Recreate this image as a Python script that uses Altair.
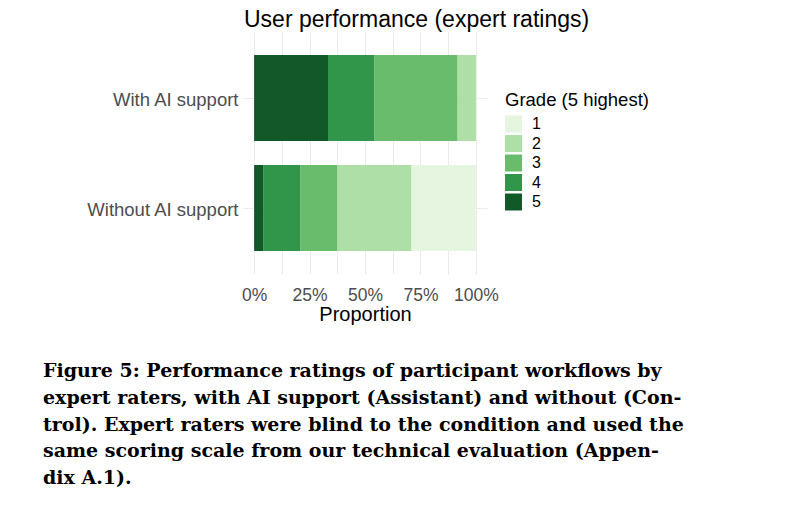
import altair as alt
import pandas as pd

conditions = ["With AI support", "Without AI support"]
grades = [1, 2, 3, 4, 5]
counts_with_ai = [0, 2, 9, 5, 8]
counts_without_ai = [7, 8, 4, 4, 1]
grade_colors = ["#e5f5e0", "#aedfa6", "#68bc6c", "#31954a", "#12592a"]
x_tick_values = [0, 0.125, 0.25, 0.375, 0.5, 0.625, 0.75, 0.875, 1.0]
caption_lines = [
    "Figure 5: Performance ratings of participant workflows by",
    "expert raters, with AI support (Assistant) and without (Con-",
    "trol). Expert raters were blind to the condition and used the",
    "same scoring scale from our technical evaluation (Appen-",
    "dix A.1).",
]

rows = []
for cond, counts in zip(conditions, [counts_with_ai, counts_without_ai]):
    total = sum(counts)
    for g, c in zip(grades, counts):
        rows.append({"condition": cond, "grade": g, "proportion": c / total})
df = pd.DataFrame(rows)

cap_df = pd.DataFrame({"line": caption_lines, "idx": list(range(len(caption_lines)))})

FONT = "Liberation Sans"

bars = alt.Chart(df).mark_bar().encode(
    y=alt.Y(
        "condition:N",
        sort=conditions,
        scale=alt.Scale(paddingInner=0.218, paddingOuter=0.209),
        axis=alt.Axis(
            title=None, ticks=False, domain=False, labelFontSize=18.5,
            labelColor="#4d4d4d", labelFont=FONT, labelPadding=5, labelOffset=2,
            gridColor="#ebebeb", gridWidth=1, bandPosition=0.5, grid=True,
        ),
    ),
    x=alt.X(
        "proportion:Q",
        stack="zero",
        scale=alt.Scale(domain=[-0.05, 1.05], nice=False, zero=False),
        axis=alt.Axis(
            title="Proportion", values=x_tick_values,
            labelExpr="abs(datum.value*4 - round(datum.value*4)) < 0.001 ? format(datum.value, '.0%') : ''",
            ticks=False, domain=False, labelFontSize=17.5, labelColor="#4d4d4d",
            labelFont=FONT, titleFont=FONT, titleFontSize=20, titleFontWeight="normal",
            titleColor="black", labelPadding=12, titlePadding=1,
            gridColor="#ebebeb", gridWidth=1,
        ),
    ),
    color=alt.Color(
        "grade:O",
        scale=alt.Scale(domain=grades, range=grade_colors),
        legend=alt.Legend(
            title="Grade (5 highest)", orient="none", legendX=262, legendY=59,
            titleFont=FONT, titleFontSize=18.5, titleFontWeight="normal", titleColor="black",
            labelFont=FONT, labelFontSize=16, labelColor="black",
            symbolType="square", symbolSize=289, symbolStrokeWidth=0,
            symbolOpacity=1, rowPadding=2.5, titlePadding=6, labelOffset=10,
        ),
    ),
    order=alt.Order("grade:O", sort="descending"),
)

caption = alt.Chart(cap_df).mark_text(
    align="left", baseline="middle", font="DejaVu Serif",
    fontWeight="bold", fontSize=19, color="black",
).encode(
    x=alt.value(-200),
    y=alt.Y("idx:Q", scale=alt.Scale(domain=[0, 4], range=[339, 446]), axis=None),
    text="line:N",
)

chart = alt.layer(bars, caption).resolve_scale(y="independent").properties(
    width=244,
    height=242,
    title=alt.TitleParams(
        "User performance (expert ratings)", font=FONT, fontSize=23,
        fontWeight="normal", color="black", anchor="start", frame="group",
        dx=1, offset=0,
    ),
    autosize=alt.AutoSizeParams(type="none"),
    padding={"left": 243, "top": 32, "right": 304, "bottom": 232},
).configure_view(stroke=None).configure_axis(gridColor="#ebebeb")

chart.save("out.html", embed_options={"renderer": "svg", "actions": False})
